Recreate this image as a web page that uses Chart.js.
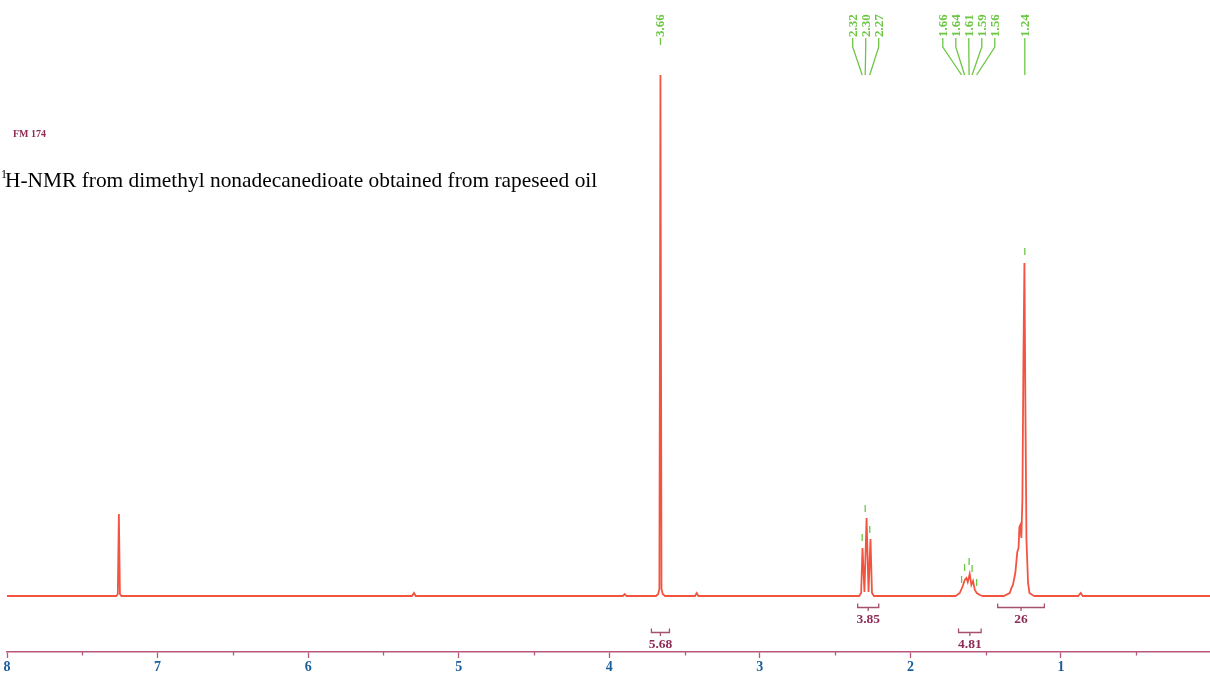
<!DOCTYPE html>
<html><head><meta charset="utf-8">
<script src="https://cdn.jsdelivr.net/npm/chart.js@4.4.1/dist/chart.umd.min.js"></script>
<style>
html,body{margin:0;padding:0;background:#fff;}
#wrap{position:relative;width:1210px;height:677px;overflow:hidden;background:#fff;}
#c{position:absolute;left:0;top:0;}
.t{position:absolute;white-space:nowrap;font-family:"Liberation Serif",serif;}
#fm{left:13px;top:129px;font-size:10px;line-height:10px;font-weight:bold;color:#8e2b55;}
#sup{left:1px;top:168px;font-size:12px;line-height:12px;color:#000;}
#title{left:5px;top:170px;font-size:21.4px;line-height:21px;color:#000;}
</style></head>
<body><div id="wrap">
<canvas id="c" width="1210" height="677"></canvas>
<div class="t" id="fm">FM 174</div>
<div class="t" id="sup">1</div>
<div class="t" id="title">H-NMR from dimethyl nonadecanedioate obtained from rapeseed oil</div>
</div>
<script>
// ---- data ----
const shiftPpm = [8.00,7.275,7.264,7.257,7.250,7.240,5.310,5.297,5.285,3.910,3.897,3.885,
  3.690,3.675,3.667,3.660,3.653,3.645,3.630,3.430,3.419,3.408,
  2.340,2.327,2.318,2.305,2.291,2.278,2.265,2.255,2.242,
  1.700,1.690,1.672,1.652,1.639,1.628,1.619,1.606,1.595,1.584,1.572,1.559,1.539,1.519,
  1.380,1.340,1.329,1.319,1.303,1.290,1.2815,1.276,1.270,1.263,1.256,1.249,1.2425,1.236,1.229,1.2185,1.209,1.190,1.176,
  0.885,0.869,0.855,0.01];
const intensity = [0,0,2,82,2,0,0,3,0,0,2,0,
  0,2,7,521,7,2,0,0,3,0,
  0,3,48,4,78,4,57,3,0,
  0,1,3,10,16,18,14,22,11,15,6,3,1,0,
  0,3,8,11,23,44,48,69,71,58,96,239,333,189,56,13,3,1,0,
  0,3,0,0];
const pickPpm = [3.66,2.32,2.30,2.27,1.66,1.64,1.61,1.59,1.56,1.24];
const pickLabels = ["3.66","2.32","2.30","2.27","1.66","1.64","1.61","1.59","1.56","1.24"];
const pickMarkerLevel = [null,55,84,63,13,25,31,24,10,341];
const pickPeakTop = [521,48,78,57,18,18,22,15,6,333];
const integralFrom = [3.72,2.35,1.68,1.42];
const integralTo = [3.60,2.21,1.53,1.11];
const integralValues = ["5.68","3.85","4.81","26"];
const tickValues = [8,7,6,5,4,3,2,1];
const tickLabels = ["8","7","6","5","4","3","2","1"];
const minorTickValues = [7.5,6.5,5.5,4.5,3.5,2.5,1.5,0.5];

// ---- styles / layout ----
const AXIS_COLOR = '#b8587c';
const GREEN = '#6cc644';
const MAROON = '#8e2b55';
const integralRow = [1,0,1,0]; // 0 = upper row, 1 = lower row
const integralRowY = [607,632];

const points = shiftPpm.map((p,i)=>({x:p,y:intensity[i]}));

const nmrPlugin = {
  id:'nmr',
  afterDraw(chart){
    const ctx = chart.ctx, xs = chart.scales.x, ys = chart.scales.y;
    const area = chart.chartArea;
    ctx.save();
    ctx.strokeStyle = AXIS_COLOR; ctx.lineWidth = 1.3;
    minorTickValues.forEach(v=>{
      const px = Math.round(xs.getPixelForValue(v))+0.5;
      ctx.beginPath(); ctx.moveTo(px,area.bottom); ctx.lineTo(px,area.bottom+3.5); ctx.stroke();
    });
    ctx.strokeStyle = GREEN; ctx.lineWidth = 1.3;
    pickPpm.forEach((p,i)=>{
      if(pickMarkerLevel[i]==null) return;
      const px = xs.getPixelForValue(p), py = ys.getPixelForValue(pickMarkerLevel[i]);
      ctx.beginPath(); ctx.moveTo(px,py); ctx.lineTo(px,py-7); ctx.stroke();
    });
    const peakPx = pickPpm.map(p=>xs.getPixelForValue(p));
    const groups = []; let cur=[0];
    for(let i=1;i<peakPx.length;i++){
      if(peakPx[i]-peakPx[i-1] < 14) cur.push(i); else {groups.push(cur); cur=[i];}
    }
    groups.push(cur);
    const labelX = new Array(peakPx.length);
    groups.forEach(g=>{
      const mean = g.reduce((s,i)=>s+peakPx[i],0)/g.length;
      g.forEach((i,k)=>{ labelX[i] = mean + (k-(g.length-1)/2)*13; });
    });
    ctx.font = 'bold 13px "Liberation Serif"';
    ctx.fillStyle = GREEN;
    pickPpm.forEach((p,i)=>{
      const lx = labelX[i];
      ctx.save();
      ctx.translate(lx,37);
      ctx.rotate(-Math.PI/2);
      ctx.textAlign='left'; ctx.textBaseline='middle';
      ctx.fillText(pickLabels[i],0,0.5);
      ctx.restore();
      const topY = ys.getPixelForValue(pickPeakTop[i]);
      const endY = Math.min(75, topY-30);
      ctx.beginPath(); ctx.moveTo(lx,38);
      if(endY<=47){ ctx.lineTo(lx,endY); }
      else { ctx.lineTo(lx,47); ctx.lineTo(peakPx[i],endY); }
      ctx.stroke();
    });
    integralFrom.forEach((f,i)=>{
      const x1 = xs.getPixelForValue(f), x2 = xs.getPixelForValue(integralTo[i]);
      const y = integralRowY[integralRow[i]]+0.5, cx=(x1+x2)/2;
      ctx.strokeStyle = '#a6506f'; ctx.lineWidth = 1.3;
      ctx.beginPath();
      ctx.moveTo(x1,y-4); ctx.lineTo(x1,y); ctx.lineTo(x2,y); ctx.lineTo(x2,y-4);
      ctx.moveTo(cx,y); ctx.lineTo(cx,y+3.5);
      ctx.stroke();
      ctx.fillStyle = MAROON; ctx.font='bold 13.5px "Liberation Serif"';
      ctx.textAlign='center'; ctx.textBaseline='middle';
      ctx.fillText(integralValues[i],cx,y+12);
    });
    ctx.restore();
  }
};

new Chart(document.getElementById('c'),{
  type:'line',
  data:{datasets:[{data:points,borderColor:'#f25440',borderWidth:1.8,pointRadius:0,tension:0,fill:false}]},
  options:{
    responsive:false,animation:false,
    layout:{padding:{left:7,right:0,top:0,bottom:0}},
    plugins:{legend:{display:false},tooltip:{enabled:false}},
    scales:{
      x:{type:'linear',reverse:true,min:0.01,max:8,
        afterBuildTicks:s=>{ s.ticks = tickValues.map(v=>({value:v})); },
        afterFit:s=>{ s.height = 25; },
        grid:{drawOnChartArea:false,drawTicks:true,tickLength:6,tickColor:AXIS_COLOR,tickWidth:1.3},
        border:{display:true,color:AXIS_COLOR,width:1.5},
        ticks:{maxRotation:0,autoSkip:false,padding:1,color:'#1a5e9c',
          font:{family:'"Liberation Serif"',size:14,weight:'bold'},
          callback:(v)=>{const i=tickValues.indexOf(v); return i>=0?tickLabels[i]:'';}}
      },
      y:{display:false,min:-56,max:596}
    }
  },
  plugins:[nmrPlugin]
});
</script>
</body></html>
